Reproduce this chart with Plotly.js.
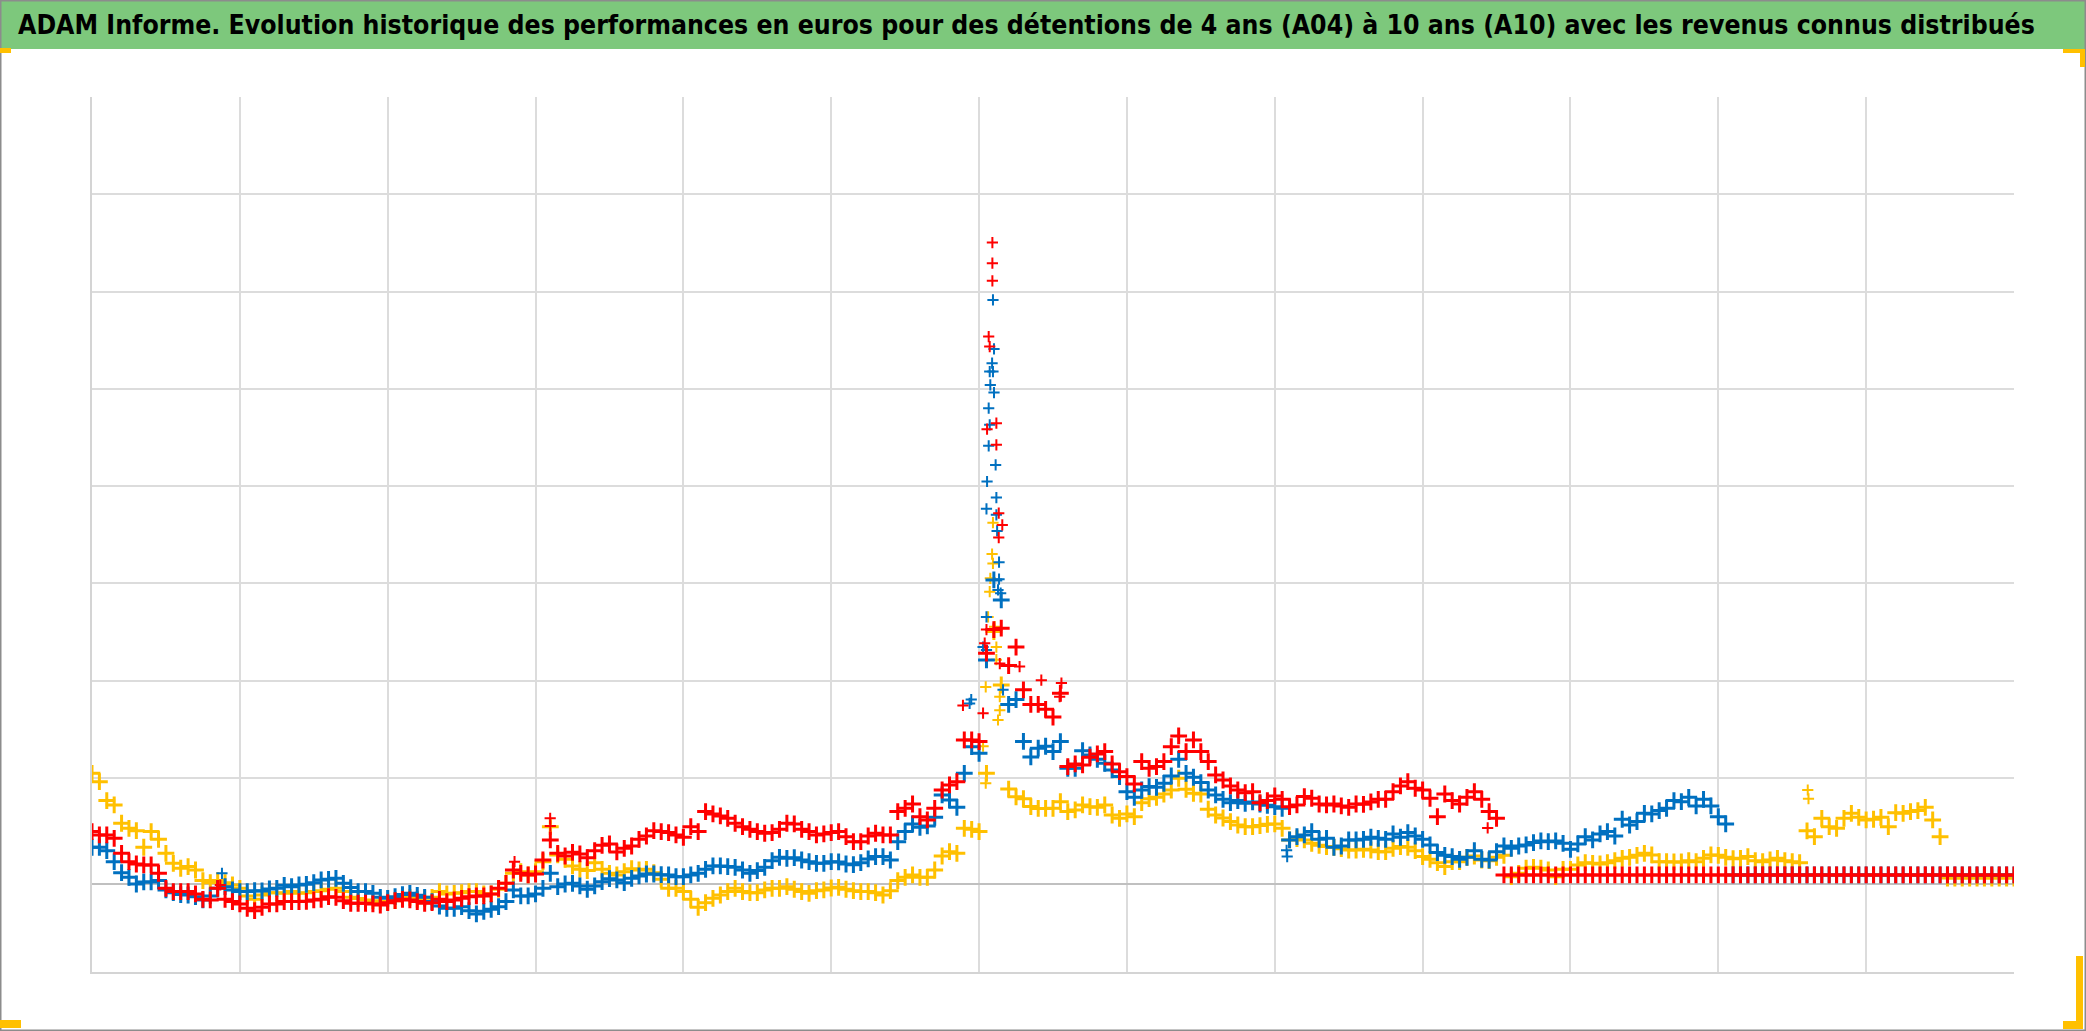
<!DOCTYPE html>
<html>
<head>
<meta charset="utf-8">
<script src="https://cdn.plot.ly/plotly-3.0.1.min.js"></script>
<style>
html,body{margin:0;padding:0;background:#fff;}
#chart{width:2086px;height:1031px;}
</style>
</head>
<body>
<div id="chart"></div>
<script>
// ---------------- DATA ----------------
const TITLE = "ADAM Informe. Evolution historique des performances en euros pour des détentions de 4 ans (A04) à 10 ans (A10) avec les revenus connus distribués";
const SERIES_NAMES = ["A04", "A07", "A10"];
// x is measured in grid-cell units (0 .. 13), sampled every X_STEP
const X_START = 0;
const X_STEP = 0.05;

const A04 = [1.142,1.056,0.861,0.816,0.628,0.576,0.552,0.381,0.542,0.463,
0.319,0.216,0.165,0.182,0.147,0.038,0.017,0.038,0.017,-0.007,
-0.041,-0.120,-0.154,-0.110,-0.086,-0.086,-0.093,-0.075,-0.093,-0.086,
-0.075,-0.065,-0.051,-0.041,-0.075,-0.134,-0.147,-0.161,-0.168,-0.178,
-0.182,-0.168,-0.147,-0.134,-0.154,-0.144,-0.134,-0.075,-0.099,-0.093,
-0.086,-0.075,-0.075,-0.099,-0.099,-0.051,0.010,0.113,0.130,0.096,
0.130,0.233,0.593,0.302,0.257,0.189,0.154,0.141,0.223,0.154,
0.113,0.096,0.130,0.161,0.147,0.154,0.120,0.051,-0.041,-0.041,
-0.075,-0.154,-0.237,-0.189,-0.144,-0.110,-0.075,-0.041,-0.075,-0.086,
-0.086,-0.058,-0.041,-0.041,-0.024,-0.051,-0.075,-0.093,-0.065,-0.058,
-0.038,-0.031,-0.051,-0.065,-0.075,-0.075,-0.086,-0.110,-0.065,0.038,
0.072,0.096,0.072,0.072,0.147,0.291,0.336,0.319,0.576,0.566,
0.542,1.142,2.600,2.050,0.980,0.900,0.880,0.800,0.780,0.780,
0.782,0.850,0.748,0.765,0.816,0.799,0.792,0.816,0.713,0.679,
0.724,0.696,0.840,0.881,0.895,0.929,0.970,1.091,0.977,0.936,
0.929,0.772,0.713,0.682,0.645,0.610,0.593,0.593,0.604,0.617,
0.621,0.576,0.456,0.470,0.456,0.422,0.401,0.388,0.381,0.367,
0.353,0.353,0.360,0.353,0.336,0.336,0.370,0.388,0.381,0.346,
0.285,0.257,0.223,0.182,0.233,0.233,0.278,0.291,0.250,0.243,
0.278,0.298,0.079,0.113,0.165,0.175,0.165,0.147,0.079,0.154,
0.154,0.199,0.223,0.216,0.209,0.223,0.243,0.267,0.278,0.298,
0.319,0.302,0.233,0.233,0.230,0.230,0.243,0.233,0.267,0.302,
0.298,0.278,0.264,0.267,0.285,0.243,0.233,0.250,0.267,0.243,
0.233,0.223,0.550,0.490,0.679,0.593,0.576,0.679,0.730,0.689,
0.662,0.669,0.689,0.593,0.737,0.730,0.748,0.758,0.792,0.662,
0.490,0.065,0.065,0.065,0.065,0.065,0.065,0.065,0.065,0.065,
0.065];

const A07 = [0.381,0.381,0.346,0.233,0.120,0.072,0.003,0.024,0.024,0.038,
-0.058,-0.086,-0.106,-0.110,-0.127,-0.161,-0.120,-0.041,-0.024,-0.058,
-0.075,-0.075,-0.065,-0.069,-0.048,-0.041,-0.010,-0.024,-0.007,0.000,
0.017,0.045,0.051,0.062,0.010,-0.034,-0.075,-0.075,-0.093,-0.134,
-0.144,-0.127,-0.106,-0.093,-0.113,-0.134,-0.178,-0.223,-0.247,-0.247,
-0.230,-0.271,-0.305,-0.278,-0.257,-0.230,-0.178,-0.058,-0.120,-0.120,
-0.099,-0.041,0.113,-0.024,0.003,0.010,-0.017,-0.051,-0.017,0.027,
0.058,0.045,0.017,0.062,0.086,0.106,0.106,0.099,0.096,0.079,
0.079,0.096,0.113,0.154,0.189,0.189,0.182,0.175,0.147,0.113,
0.141,0.175,0.243,0.278,0.267,0.274,0.250,0.233,0.216,0.216,
0.233,0.230,0.209,0.202,0.223,0.261,0.285,0.285,0.250,0.439,
0.542,0.621,0.586,0.600,0.689,0.919,0.868,0.792,1.142,1.416,
1.348,2.308,3.131,2.925,1.850,1.900,1.470,1.310,1.400,1.420,
1.365,1.468,1.193,1.193,1.375,1.331,1.286,1.245,1.176,1.108,
0.953,0.895,0.970,1.005,0.998,1.039,1.115,1.286,1.142,1.101,
1.046,0.970,0.919,0.874,0.840,0.861,0.833,0.847,0.826,0.813,
0.799,0.782,0.456,0.490,0.508,0.542,0.463,0.473,0.381,0.394,
0.456,0.456,0.463,0.484,0.473,0.463,0.518,0.484,0.532,0.497,
0.463,0.405,0.326,0.298,0.285,0.257,0.278,0.346,0.257,0.250,
0.336,0.394,0.370,0.394,0.405,0.429,0.446,0.439,0.446,0.422,
0.360,0.415,0.490,0.456,0.518,0.542,0.497,0.669,0.610,0.645,
0.730,0.724,0.758,0.782,0.861,0.850,0.895,0.806,0.874,0.806,
0.696,0.621,0.096,0.096,0.096,0.096,0.096,0.096,0.096,0.096,
0.096,0.096,0.096,0.096,0.096,0.096,0.096,0.096,0.096,0.096,
0.096,0.096,0.096,0.096,0.096,0.096,0.096,0.096,0.096,0.096,
0.096,0.096,0.096,0.096,0.096,0.096,0.096,0.096,0.096,0.096,
0.096];

const A10 = [0.542,0.508,0.508,0.473,0.319,0.233,0.209,0.199,0.199,0.113,
-0.041,-0.075,-0.075,-0.075,-0.099,-0.154,-0.161,-0.041,-0.154,-0.178,
-0.202,-0.247,-0.271,-0.237,-0.202,-0.202,-0.178,-0.178,-0.178,-0.175,
-0.161,-0.154,-0.127,-0.134,-0.168,-0.195,-0.195,-0.195,-0.202,-0.213,
-0.189,-0.168,-0.154,-0.161,-0.178,-0.195,-0.189,-0.154,-0.178,-0.161,
-0.144,-0.127,-0.120,-0.120,-0.099,-0.041,0.010,0.147,0.113,0.096,
0.106,0.250,0.456,0.319,0.291,0.329,0.312,0.274,0.346,0.401,
0.415,0.333,0.370,0.394,0.463,0.497,0.552,0.542,0.532,0.508,
0.484,0.593,0.542,0.748,0.724,0.703,0.679,0.628,0.593,0.566,
0.542,0.525,0.532,0.566,0.628,0.621,0.566,0.542,0.508,0.518,
0.532,0.542,0.490,0.439,0.439,0.497,0.525,0.508,0.508,0.748,
0.782,0.826,0.696,0.662,0.782,0.970,1.022,1.056,1.485,1.485,
1.468,2.377,2.620,2.634,2.250,2.440,2.000,1.850,1.850,1.800,
1.720,1.965,1.211,1.238,1.228,1.307,1.341,1.365,1.238,1.159,
1.108,1.032,1.262,1.193,1.211,1.262,1.416,1.526,1.365,1.485,
1.365,1.262,1.125,1.073,1.012,0.970,0.943,0.953,0.840,0.861,
0.909,0.874,0.799,0.816,0.902,0.885,0.826,0.816,0.826,0.806,
0.792,0.826,0.823,0.847,0.874,0.874,0.953,1.012,1.056,0.988,
0.970,0.885,0.696,0.929,0.861,0.826,0.895,0.953,0.874,0.748,
0.679,0.096,0.096,0.096,0.096,0.096,0.096,0.096,0.096,0.096,
0.096,0.096,0.096,0.096,0.096,0.096,0.096,0.096,0.096,0.096,
0.096,0.096,0.096,0.096,0.096,0.096,0.096,0.096,0.096,0.096,
0.096,0.096,0.096,0.096,0.096,0.096,0.096,0.096,0.096,0.096,
0.096,0.096,0.096,0.096,0.096,0.096,0.096,0.096,0.096,0.096,
0.096,0.096,0.096,0.096,0.096,0.096,0.096,0.096,0.096,0.096,
0.096,0.096,0.096,0.096,0.096,0.096,0.096,0.096,0.096,0.096,
0.096];

// scattered isolated points (mostly the crash / spike period)
const A04_EXTRA_X = [6.094,6.088,6.094,6.076,6.072,6.061,6.105,6.117,6.117,6.045,6.140,6.140,6.128,6.027,6.045,11.605,11.610];
const A04_EXTRA_Y = [3.720,3.397,3.301,3.147,3.010,2.750,2.650,2.440,2.310,2.030,1.930,1.790,1.690,1.420,1.040,0.970,0.880];
const A07_EXTRA_X = [6.094,6.101,6.088,6.072,6.094,6.076,6.101,6.065,6.072,6.065,6.112,6.054,6.117,6.050,6.117,6.122,6.135,6.135,6.128,6.146,5.936,5.947,6.050,6.050,6.027,6.162,8.084,8.080,0.879];
const A07_EXTRA_Y = [6.011,5.507,5.360,5.274,5.274,5.137,5.058,4.897,4.726,4.510,4.314,4.143,3.978,3.862,3.800,3.635,3.313,3.138,3.028,2.994,1.860,1.900,2.750,2.410,2.440,2.000,0.285,0.350,0.113];
const A10_EXTRA_X = [6.090,6.090,6.090,6.065,6.072,6.054,6.117,6.117,6.133,6.133,6.157,6.027,6.050,6.038,6.140,6.274,6.545,5.891,6.421,6.557,2.858,3.099,3.100,9.440,0.868];
const A10_EXTRA_Y = [6.601,6.389,6.207,5.634,5.531,4.681,4.743,4.520,3.817,3.566,3.697,1.760,2.620,2.480,2.270,2.240,1.930,1.840,2.100,2.070,0.233,0.679,0.600,0.580,-0.007];

// ---------------- LAYOUT / STYLE ----------------
const W = 2086, H = 1031;
const M = {l: 92, r: 72, t: 97, b: 59};
const PW = W - M.l - M.r, PH = H - M.t - M.b;
const Y_MIN = -0.902, Y_MAX = 8.098;
const GRID_Y = [1.096, 2.096, 3.096, 4.096, 5.096, 6.096, 7.096, 8.096];
const GRID_X = [0,1,2,3,4,5,6,7,8,9,10,11,12];
const COLORS = {A04: "#FFC000", A07: "#0070C0", A10: "#FF0000"};
const BAND_MARKER = {size: 12, width: 3};
const LONE_MARKER = {size: 8, width: 2};

function px2paperX(p){ return (p - M.l) / PW; }
function px2paperY(p){ return (H - M.b - p) / PH; }
function rectPx(x0, y0, x1, y1, fill, line){
  return {type:"rect", xref:"paper", yref:"paper", layer:"above",
    x0:px2paperX(x0), x1:px2paperX(x1), y0:px2paperY(y1), y1:px2paperY(y0),
    fillcolor: fill || "rgba(0,0,0,0)",
    line: line || {width:0}};
}

function buildTrace(name, ys, ex, ey){
  const x = ys.map((_, i) => +(X_START + i * X_STEP).toFixed(3)).concat(ex);
  const y = ys.concat(ey);
  const sizes = ys.map(() => BAND_MARKER.size).concat(ex.map(() => LONE_MARKER.size));
  const widths = ys.map(() => BAND_MARKER.width).concat(ex.map(() => LONE_MARKER.width));
  return {
    type: "scatter", mode: "markers", name: name, x: x, y: y,
    cliponaxis: true,
    marker: {symbol: "cross-thin", size: sizes, color: COLORS[name], opacity: 1,
             line: {width: widths, color: COLORS[name]}},
    hoverinfo: "skip"
  };
}

const traces = [
  buildTrace(SERIES_NAMES[0], A04, A04_EXTRA_X, A04_EXTRA_Y),
  buildTrace(SERIES_NAMES[1], A07, A07_EXTRA_X, A07_EXTRA_Y),
  buildTrace(SERIES_NAMES[2], A10, A10_EXTRA_X, A10_EXTRA_Y)
];

const HANDLE = "#FFC000";
const shapes = [
  Object.assign(rectPx(1, 1, 2085, 49, "#7DC87C", {width:0}), {layer:"below"}),
  rectPx(0.75, 0.75, 2085.25, 1030.25, null, {color:"#8C8C8C", width:1.5}),
  rectPx(0, 48, 11, 53, HANDLE),
  rectPx(2063, 49, 2085, 53, HANDLE),
  rectPx(2080, 49, 2085, 67, HANDLE),
  rectPx(0, 1020, 21, 1028, HANDLE),
  rectPx(2076, 956, 2083, 1028, HANDLE),
  rectPx(2063, 1021, 2083, 1029, HANDLE)
];

const layout = {
  width: W, height: H,
  margin: M,
  paper_bgcolor: "#FFFFFF",
  plot_bgcolor: "#FFFFFF",
  showlegend: false,
  hovermode: false,
  title: {
    text: "<b>" + TITLE + "</b>",
    xref: "container", yref: "container",
    x: 18 / W, xanchor: "left",
    y: 1 - 25 / H, yanchor: "middle",
    font: {family: "DejaVu Sans Condensed, DejaVu Sans, sans-serif", size: 26.4, color: "#000000"}
  },
  xaxis: {
    range: [0, 13], tickmode: "array", tickvals: GRID_X,
    showticklabels: false, ticks: "",
    showgrid: true, gridcolor: "#DCDCDC", gridwidth: 2,
    zeroline: false, showline: true, linecolor: "#D4D4D4", linewidth: 2,
    fixedrange: true
  },
  yaxis: {
    range: [Y_MIN, Y_MAX], tickmode: "array", tickvals: GRID_Y,
    showticklabels: false, ticks: "",
    showgrid: true, gridcolor: "#DCDCDC", gridwidth: 2,
    zeroline: true, zerolinecolor: "#C0C0C0", zerolinewidth: 2,
    showline: true, linecolor: "#D4D4D4", linewidth: 2,
    fixedrange: true
  },
  shapes: shapes
};

Plotly.newPlot("chart", traces, layout, {staticPlot: true, displayModeBar: false});
</script>
</body>
</html>
